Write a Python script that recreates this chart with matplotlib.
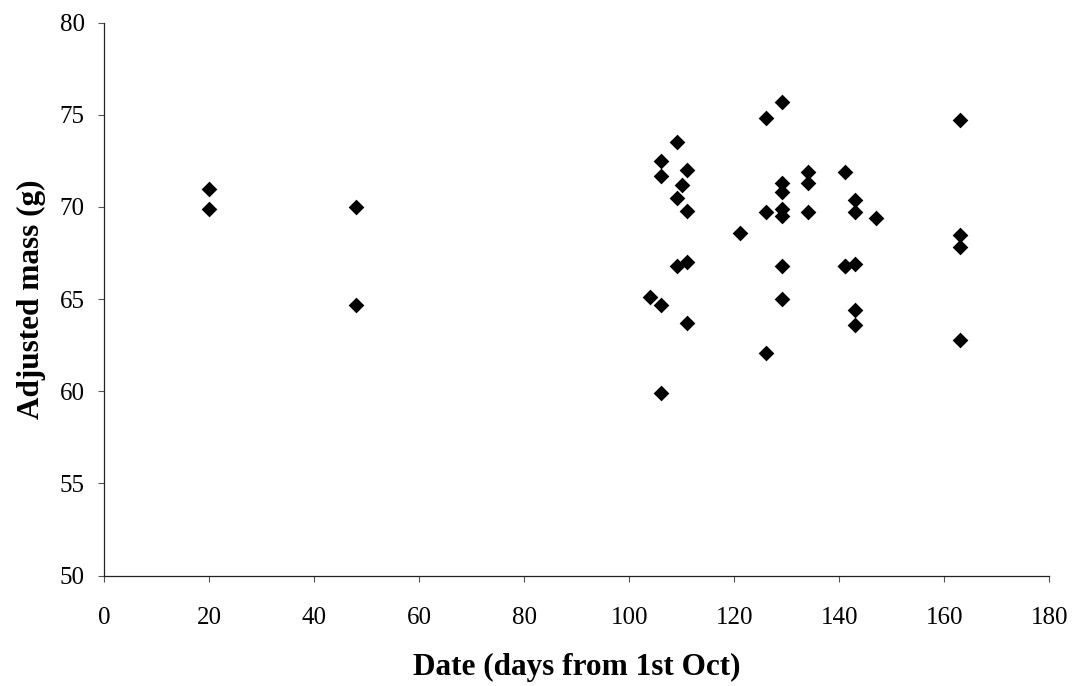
import matplotlib
matplotlib.use("Agg")
import matplotlib.pyplot as plt
import numpy as np

# Date (days from 1st Oct) and adjusted mass (g)
days = [20, 20, 48, 48,
        104, 106, 106, 106, 106, 109, 109, 109, 110, 111, 111, 111, 111,
        121, 126, 126, 126, 129, 129, 129, 129, 129, 129, 129,
        134, 134, 134, 141, 141, 141, 143, 143, 143, 143, 143, 147,
        163, 163, 163, 163]
mass = [71.0, 69.9, 70.0, 64.7,
        65.1, 72.5, 71.7, 64.7, 59.9, 73.5, 70.5, 66.8, 71.2, 72.0, 69.8, 67.0, 63.7,
        68.6, 74.8, 69.7, 62.1, 75.7, 71.3, 70.8, 69.9, 69.5, 66.8, 65.0,
        71.9, 71.3, 69.7, 71.9, 66.8, 66.8, 70.4, 69.7, 66.9, 64.4, 63.6, 69.4,
        74.7, 68.5, 67.8, 62.8]

xticks = np.arange(0, 181, 20)
yticks = np.arange(50, 81, 5)

plt.rcParams["font.family"] = ["Liberation Serif", "DejaVu Serif"]

fig = plt.figure(figsize=(10.72, 6.86), dpi=100)
ax = fig.add_axes([0.097, 0.161, 0.882, 0.806])

ax.scatter(days, mass, marker="D", s=64, color="black", linewidths=0, zorder=3)

ax.set_xlim(0, 180)
ax.set_ylim(50, 80)
ax.set_xticks(xticks)
ax.set_yticks(yticks)
ax.tick_params(direction="out", length=4, width=0.8, color="#555555",
               labelsize=18)
ax.tick_params(axis="x", pad=19)
ax.tick_params(axis="y", pad=10)

for side in ("top", "right"):
    ax.spines[side].set_visible(False)
for side in ("left", "bottom"):
    ax.spines[side].set_linewidth(0.9)
    ax.spines[side].set_color("#222222")

ax.set_xlabel("Date (days from 1st Oct)", fontsize=22.5, fontweight="bold", labelpad=17)
ax.set_ylabel("Adjusted mass (g)", fontsize=22.5, fontweight="bold", labelpad=10)

fig.savefig("out.png", dpi=100)
